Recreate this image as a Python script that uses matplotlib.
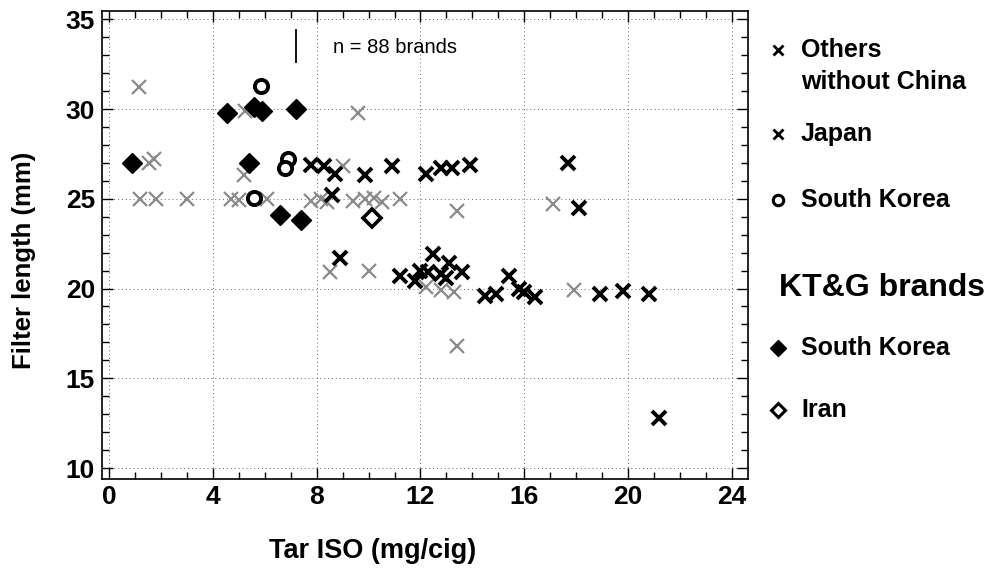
import matplotlib
matplotlib.use("Agg")
import matplotlib.pyplot as plt
from matplotlib.ticker import MultipleLocator

# Tar yield (mg/cig) and filter length (mm) per brand group
others_tar = [1.16, 1.74, 1.55, 1.2, 1.8, 3.0, 4.7, 5.0, 6.1, 5.2, 5.25, 9.6, 7.8, 8.15,
              8.4, 9.4, 9.85, 10.2, 10.5, 11.2, 13.4, 8.5, 10.0, 12.2, 12.8, 13.3,
              17.1, 17.9, 13.4, 9.0]
others_len = [31.2, 27.2, 27.0, 25.0, 25.0, 25.0, 25.0, 24.95, 25.0, 26.3, 29.9, 29.8,
              24.9, 25.0, 24.8, 24.9, 25.0, 25.05, 24.8, 25.0, 24.3, 20.9, 21.0, 20.1,
              19.9, 19.8, 24.7, 19.9, 16.8, 26.8]

japan_tar = [7.8, 8.3, 8.7, 9.85, 10.9, 12.2, 12.8, 13.2, 13.9, 8.6, 8.9,
             11.2, 11.8, 12.0, 12.3, 12.5, 12.8, 13.1, 13.0, 13.6,
             14.5, 14.9, 15.4, 15.8, 16.0, 16.4, 18.9, 19.8, 20.8, 17.7, 18.1, 21.2]
japan_len = [26.9, 26.8, 26.4, 26.3, 26.8, 26.4, 26.7, 26.7, 26.9, 25.2, 21.7,
             20.7, 20.4, 21.0, 20.9, 21.9, 20.8, 21.4, 20.6, 20.9,
             19.6, 19.7, 20.7, 20.0, 19.8, 19.55, 19.7, 19.85, 19.7, 27.0, 24.5, 12.8]

korea_tar = [5.87, 6.9, 6.8, 5.6]
korea_len = [31.3, 27.2, 26.7, 25.05]

ktg_korea_tar = [0.9, 4.55, 5.6, 5.9, 5.4, 7.2, 6.6, 7.4]
ktg_korea_len = [27.0, 29.8, 30.1, 29.9, 27.0, 30.0, 24.1, 23.8]

ktg_iran_tar = [10.15]
ktg_iran_len = [23.95]

x_ticks = [0, 4, 8, 12, 16, 20, 24]
y_ticks = [10, 15, 20, 25, 30, 35]

narrow = ["Liberation Sans Narrow", "Liberation Sans", "DejaVu Sans"]
wide = ["Liberation Sans", "DejaVu Sans"]

W, H = 995, 580
fig = plt.figure(figsize=(W / 100, H / 100), dpi=100)
left, right, top, bottom = 102, 748, 11, 479
ax = fig.add_axes([left / W, 1 - bottom / H, (right - left) / W, (bottom - top) / H])

ax.set_xlim(-0.27, 24.62)
ax.set_ylim(9.39, 35.46)

for x in x_ticks:
    ax.axvline(x, color="#666666", lw=0.7, ls=(0, (1, 3)), zorder=0)
for y in y_ticks:
    ax.axhline(y, color="#666666", lw=0.7, ls=(0, (1, 3)), zorder=0)

ax.plot(others_tar, others_len, ls="none", marker="x", ms=9.5, mew=1.6,
        color="#8a8a8a", zorder=2)
ax.plot(japan_tar, japan_len, ls="none", marker="x", ms=9.5, mew=2.8,
        color="black", zorder=3)
ax.plot(korea_tar, korea_len, ls="none", marker="o", ms=9.5, mew=2.8,
        mfc="white", mec="black", zorder=4)
ax.plot(ktg_korea_tar, ktg_korea_len, ls="none", marker="D", ms=10.5, mew=1,
        color="black", zorder=4)
ax.plot(ktg_iran_tar, ktg_iran_len, ls="none", marker="D", ms=9.5, mew=2.6,
        mfc="white", mec="black", zorder=4)

ax.text(8.63, 33.4, "n = 88 brands", fontsize=14.5, family=wide, va="center")
ax.plot([7.2, 7.2], [32.6, 34.4], color="black", lw=1.3)

ax.set_xticks(x_ticks)
ax.set_yticks(y_ticks)
ax.xaxis.set_minor_locator(MultipleLocator(1))
ax.yaxis.set_minor_locator(MultipleLocator(1))
ax.tick_params(which="both", direction="in", top=True, right=True, width=1)
ax.tick_params(which="major", length=8)
ax.tick_params(which="minor", length=5)
ax.tick_params(axis="x", pad=4)
ax.tick_params(axis="y", pad=5)
for lab in ax.get_xticklabels() + ax.get_yticklabels():
    lab.set_fontfamily(narrow)
    lab.set_fontweight("bold")
    lab.set_fontsize(19)
for s in ax.spines.values():
    s.set_linewidth(1.2)

ax.set_xlabel("Tar ISO (mg/cig)", fontsize=19.5, fontweight="bold", family=narrow)
ax.set_ylabel("Filter length (mm)", fontsize=18.5, fontweight="bold", family=wide)
ax.xaxis.set_label_coords((373 - left) / (right - left), (bottom - 538) / (bottom - top))
ax.yaxis.set_label_coords((36 - left) / (right - left), (bottom - 260) / (bottom - top))

# legend drawn as figure text with marker glyphs
def fx(px):
    return px / W

def fy(py):
    return 1 - py / H

mk_x = fx(778)
tx = fx(801)
entries = [
    (50, "x", dict(color="black", mew=2, ms=7.5)),
    (134, "x", dict(color="black", mew=2, ms=7.5)),
    (200, "o", dict(mfc="white", mec="black", mew=2.2, ms=7.5)),
    (348, "D", dict(color="black", ms=8)),
    (410, "D", dict(mfc="white", mec="black", mew=2.2, ms=7.5)),
]
for py, m, kw in entries:
    fig.lines.append(plt.Line2D([mk_x], [fy(py)], marker=m, ls="none",
                                transform=fig.transFigure, **kw))

lab_kw = dict(fontsize=18, fontweight="bold", family=wide, va="center", ha="left")
fig.text(tx, fy(50), "Others", **lab_kw)
fig.text(tx, fy(82), "without China", **lab_kw)
fig.text(tx, fy(134), "Japan", **lab_kw)
fig.text(tx, fy(200), "South Korea", **lab_kw)
fig.text(fx(779), fy(288), "KT&G brands", fontsize=23, fontweight="bold",
         family=wide, va="center", ha="left")
fig.text(tx, fy(348), "South Korea", **lab_kw)
fig.text(tx, fy(410), "Iran", **lab_kw)

fig.savefig("out.png", dpi=100)
